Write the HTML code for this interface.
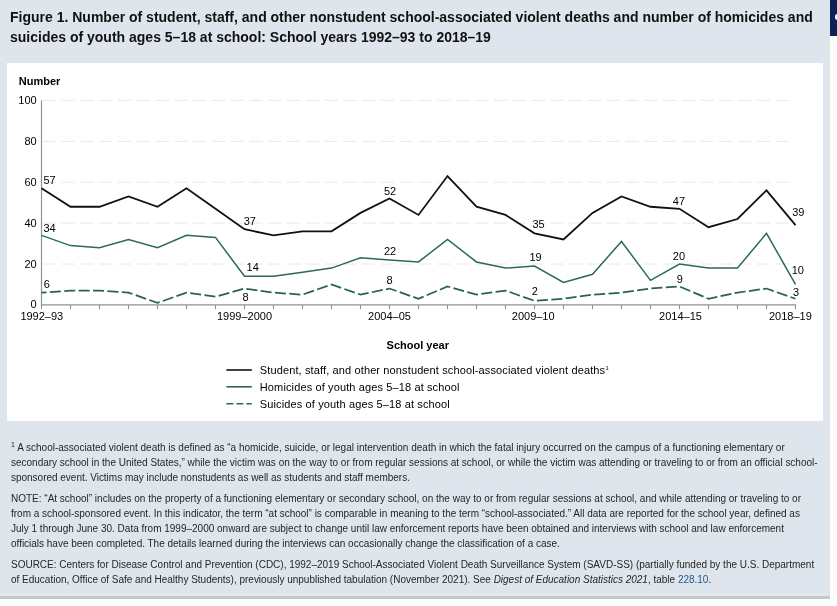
<!DOCTYPE html>
<html lang="en"><head><meta charset="utf-8"><title>Figure 1</title>
<style>
html,body{margin:0;padding:0;background:#fff;}
body{width:837px;height:606px;position:relative;overflow:hidden;font-family:"Liberation Sans",Arial,sans-serif;}
.panel{position:absolute;left:0;top:0;width:830px;height:593px;background:#dfe5ec;border-bottom:3px solid #e4e9ed;box-shadow:0 3px 0 #c3c8cc;}
.side{position:absolute;left:827px;top:0;width:3px;height:596px;background:#e1e4e8;}
.navy{position:absolute;left:830px;top:0;width:7px;height:35.5px;background:#0b2457;overflow:hidden;}
.navy i{position:absolute;left:4.7px;top:14.2px;width:5.8px;height:5.8px;border-radius:50%;background:#fff;}
h1{position:absolute;left:9.6px;top:7px;margin:0;font-size:14px;line-height:20px;will-change:transform;font-weight:bold;color:#111;white-space:nowrap;}
.white{position:absolute;left:7px;top:63px;width:816px;height:358px;background:#fff;}
.chart{position:absolute;left:0;top:0;will-change:transform;}
.fn{position:absolute;left:11px;will-change:transform;font-size:10px;line-height:15px;color:#262626;white-space:nowrap;}
.fn sup{font-size:7px;line-height:0;vertical-align:baseline;position:relative;top:-4.5px;margin-right:0;}
.fn a{color:#25578a;}
</style></head><body>
<div class="panel"></div>
<div class="side"></div>
<div class="navy"><i></i></div>
<h1>Figure 1. Number of student, staff, and other nonstudent school-associated violent deaths and number of homicides and<br>suicides of youth ages 5–18 at school: School years 1992–93 to 2018–19</h1>
<div class="white"></div>
<svg class="chart" width="837" height="606" viewBox="0 0 837 606">
<line x1="42.6" x2="791.6" y1="264.00" y2="264.00" stroke="#e8e8e8" stroke-width="1" stroke-dasharray="13.3 5.5"/>
<line x1="42.6" x2="791.6" y1="223.10" y2="223.10" stroke="#e8e8e8" stroke-width="1" stroke-dasharray="13.3 5.5"/>
<line x1="42.6" x2="791.6" y1="182.20" y2="182.20" stroke="#e8e8e8" stroke-width="1" stroke-dasharray="13.3 5.5"/>
<line x1="42.6" x2="791.6" y1="141.30" y2="141.30" stroke="#e8e8e8" stroke-width="1" stroke-dasharray="13.3 5.5"/>
<line x1="42.6" x2="791.6" y1="100.40" y2="100.40" stroke="#e8e8e8" stroke-width="1" stroke-dasharray="13.3 5.5"/>
<line x1="41.5" x2="41.5" y1="100.40" y2="305.4" stroke="#8a949e" stroke-width="1.2"/>
<line x1="40.9" x2="796.10" y1="304.9" y2="304.9" stroke="#8a949e" stroke-width="1.2"/>
<line x1="41.50" x2="41.50" y1="304.9" y2="309.09999999999997" stroke="#8a949e" stroke-width="1.1"/>
<line x1="70.50" x2="70.50" y1="304.9" y2="309.09999999999997" stroke="#8a949e" stroke-width="1.1"/>
<line x1="99.50" x2="99.50" y1="304.9" y2="309.09999999999997" stroke="#8a949e" stroke-width="1.1"/>
<line x1="128.50" x2="128.50" y1="304.9" y2="309.09999999999997" stroke="#8a949e" stroke-width="1.1"/>
<line x1="157.50" x2="157.50" y1="304.9" y2="309.09999999999997" stroke="#8a949e" stroke-width="1.1"/>
<line x1="186.50" x2="186.50" y1="304.9" y2="309.09999999999997" stroke="#8a949e" stroke-width="1.1"/>
<line x1="215.50" x2="215.50" y1="304.9" y2="309.09999999999997" stroke="#8a949e" stroke-width="1.1"/>
<line x1="244.50" x2="244.50" y1="304.9" y2="309.09999999999997" stroke="#8a949e" stroke-width="1.1"/>
<line x1="273.50" x2="273.50" y1="304.9" y2="309.09999999999997" stroke="#8a949e" stroke-width="1.1"/>
<line x1="302.50" x2="302.50" y1="304.9" y2="309.09999999999997" stroke="#8a949e" stroke-width="1.1"/>
<line x1="331.50" x2="331.50" y1="304.9" y2="309.09999999999997" stroke="#8a949e" stroke-width="1.1"/>
<line x1="360.50" x2="360.50" y1="304.9" y2="309.09999999999997" stroke="#8a949e" stroke-width="1.1"/>
<line x1="389.50" x2="389.50" y1="304.9" y2="309.09999999999997" stroke="#8a949e" stroke-width="1.1"/>
<line x1="418.50" x2="418.50" y1="304.9" y2="309.09999999999997" stroke="#8a949e" stroke-width="1.1"/>
<line x1="447.50" x2="447.50" y1="304.9" y2="309.09999999999997" stroke="#8a949e" stroke-width="1.1"/>
<line x1="476.50" x2="476.50" y1="304.9" y2="309.09999999999997" stroke="#8a949e" stroke-width="1.1"/>
<line x1="505.50" x2="505.50" y1="304.9" y2="309.09999999999997" stroke="#8a949e" stroke-width="1.1"/>
<line x1="534.50" x2="534.50" y1="304.9" y2="309.09999999999997" stroke="#8a949e" stroke-width="1.1"/>
<line x1="563.50" x2="563.50" y1="304.9" y2="309.09999999999997" stroke="#8a949e" stroke-width="1.1"/>
<line x1="592.50" x2="592.50" y1="304.9" y2="309.09999999999997" stroke="#8a949e" stroke-width="1.1"/>
<line x1="621.50" x2="621.50" y1="304.9" y2="309.09999999999997" stroke="#8a949e" stroke-width="1.1"/>
<line x1="650.50" x2="650.50" y1="304.9" y2="309.09999999999997" stroke="#8a949e" stroke-width="1.1"/>
<line x1="679.50" x2="679.50" y1="304.9" y2="309.09999999999997" stroke="#8a949e" stroke-width="1.1"/>
<line x1="708.50" x2="708.50" y1="304.9" y2="309.09999999999997" stroke="#8a949e" stroke-width="1.1"/>
<line x1="737.50" x2="737.50" y1="304.9" y2="309.09999999999997" stroke="#8a949e" stroke-width="1.1"/>
<line x1="766.50" x2="766.50" y1="304.9" y2="309.09999999999997" stroke="#8a949e" stroke-width="1.1"/>
<line x1="795.50" x2="795.50" y1="304.9" y2="309.09999999999997" stroke="#8a949e" stroke-width="1.1"/>
<polyline fill="none" stroke="#246647" stroke-width="1.75" stroke-dasharray="11 3.4" stroke-dashoffset="6" points="41.50,292.63 70.50,290.58 99.50,290.58 128.50,292.63 157.50,302.85 186.50,292.63 215.50,296.72 244.50,288.54 273.50,292.63 302.50,294.67 331.50,284.45 360.50,294.67 389.50,288.54 418.50,298.76 447.50,286.50 476.50,294.67 505.50,290.58 534.50,300.81 563.50,298.76 592.50,294.67 621.50,292.63 650.50,288.54 679.50,286.50 708.50,298.76 737.50,292.63 766.50,288.54 795.50,298.76"/>
<polyline fill="none" stroke="#2b6b4e" stroke-width="1.5" stroke-linejoin="miter" points="41.50,235.37 70.50,245.59 99.50,247.64 128.50,239.46 157.50,247.64 186.50,235.37 215.50,237.41 244.50,276.27 273.50,276.27 302.50,272.18 331.50,268.09 360.50,257.87 389.50,259.91 418.50,261.95 447.50,239.46 476.50,261.95 505.50,268.09 534.50,266.04 563.50,282.40 592.50,274.22 621.50,241.50 650.50,280.36 679.50,264.00 708.50,268.09 737.50,268.09 766.50,233.32 795.50,284.45"/>
<polyline fill="none" stroke="#111" stroke-width="1.8" stroke-linejoin="miter" points="41.50,188.33 70.50,206.74 99.50,206.74 128.50,196.51 157.50,206.74 186.50,188.33 215.50,208.78 244.50,229.23 273.50,235.37 302.50,231.28 331.50,231.28 360.50,212.88 389.50,198.56 418.50,214.92 447.50,176.06 476.50,206.74 505.50,214.92 534.50,233.32 563.50,239.46 592.50,212.88 621.50,196.51 650.50,206.74 679.50,208.78 708.50,227.19 737.50,219.01 766.50,190.38 795.50,225.14"/>
<g font-family="'Liberation Sans', Arial, sans-serif" font-size="11" fill="#000">
<text x="18.8" y="85" font-weight="bold" fill="#000">Number</text>
<text x="36.7" y="307.6" text-anchor="end">0</text>
<text x="36.7" y="267.8" text-anchor="end">20</text>
<text x="36.7" y="226.9" text-anchor="end">40</text>
<text x="36.7" y="186.0" text-anchor="end">60</text>
<text x="36.7" y="145.1" text-anchor="end">80</text>
<text x="36.7" y="104.2" text-anchor="end">100</text>
<text x="41.8" y="320" text-anchor="middle">1992–93</text>
<text x="244.5" y="320" text-anchor="middle">1999–2000</text>
<text x="389.5" y="320" text-anchor="middle">2004–05</text>
<text x="533.2" y="320" text-anchor="middle">2009–10</text>
<text x="680.5" y="320" text-anchor="middle">2014–15</text>
<text x="790.4" y="320" text-anchor="middle">2018–19</text>
<text x="417.8" y="348.7" text-anchor="middle" font-weight="bold" fill="#000">School year</text>
<text x="43.5" y="184">57</text>
<text x="43.5" y="231.9">34</text>
<text x="43.8" y="288.1">6</text>
<text x="243.7" y="224.7">37</text>
<text x="246.6" y="270.9">14</text>
<text x="242.4" y="300.8">8</text>
<text x="384" y="194.9">52</text>
<text x="384" y="254.6">22</text>
<text x="386.4" y="284.1">8</text>
<text x="532.5" y="228.1">35</text>
<text x="529.4" y="260.6">19</text>
<text x="531.7" y="294.7">2</text>
<text x="672.8" y="205">47</text>
<text x="672.8" y="259.8">20</text>
<text x="676.8" y="282.8">9</text>
<text x="792.2" y="215.5">39</text>
<text x="791.7" y="274.1">10</text>
<text x="793" y="296">3</text>
<line x1="226.4" x2="251.8" y1="370" y2="370" stroke="#111" stroke-width="1.6"/>
<line x1="226.4" x2="251.8" y1="386.8" y2="386.8" stroke="#2a6a4c" stroke-width="1.6"/>
<line x1="226.4" x2="251.8" y1="403.8" y2="403.8" stroke="#2a6a4c" stroke-width="1.6" stroke-dasharray="7 3"/>
<text x="259.8" y="373.6" textLength="345.3" lengthAdjust="spacing">Student, staff, and other nonstudent school-associated violent deaths</text>
<text x="605.5" y="369.8" font-size="5.8">1</text>
<text x="259.8" y="390.6" textLength="199.6" lengthAdjust="spacing">Homicides of youth ages 5–18 at school</text>
<text x="259.8" y="407.6" textLength="190" lengthAdjust="spacing">Suicides of youth ages 5–18 at school</text>
</g></svg>
<div class="fn" id="fn0" style="top:439.93px;letter-spacing:-0.0005px"><sup>1</sup> A school-associated violent death is defined as “a homicide, suicide, or legal intervention death in which the fatal injury occurred on the campus of a functioning elementary or</div>
<div class="fn" id="fn1" style="top:455.03px;letter-spacing:-0.0044px">secondary school in the United States,” while the victim was on the way to or from regular sessions at school, or while the victim was attending or traveling to or from an official school-</div>
<div class="fn" id="fn2" style="top:469.93px;letter-spacing:-0.0173px">sponsored event. Victims may include nonstudents as well as students and staff members.</div>
<div class="fn" id="fn3" style="top:490.93px;letter-spacing:-0.0023px">NOTE: “At school” includes on the property of a functioning elementary or secondary school, on the way to or from regular sessions at school, and while attending or traveling to or</div>
<div class="fn" id="fn4" style="top:505.63px;letter-spacing:-0.0053px">from a school-sponsored event. In this indicator, the term “at school” is comparable in meaning to the term “school-associated.” All data are reported for the school year, defined as</div>
<div class="fn" id="fn5" style="top:520.63px;letter-spacing:-0.0054px">July 1 through June 30. Data from 1999–2000 onward are subject to change until law enforcement reports have been obtained and interviews with school and law enforcement</div>
<div class="fn" id="fn6" style="top:535.63px;letter-spacing:-0.0136px">officials have been completed. The details learned during the interviews can occasionally change the classification of a case.</div>
<div class="fn" id="fn7" style="top:557.03px;letter-spacing:-0.0042px">SOURCE: Centers for Disease Control and Prevention (CDC), 1992–2019 School-Associated Violent Death Surveillance System (SAVD-SS) (partially funded by the U.S. Department</div>
<div class="fn" id="fn8" style="top:572.03px;letter-spacing:-0.0076px">of Education, Office of Safe and Healthy Students), previously unpublished tabulation (November 2021). See <i>Digest of Education Statistics 2021</i>, table <a>228.10</a>.</div>
</body></html>
